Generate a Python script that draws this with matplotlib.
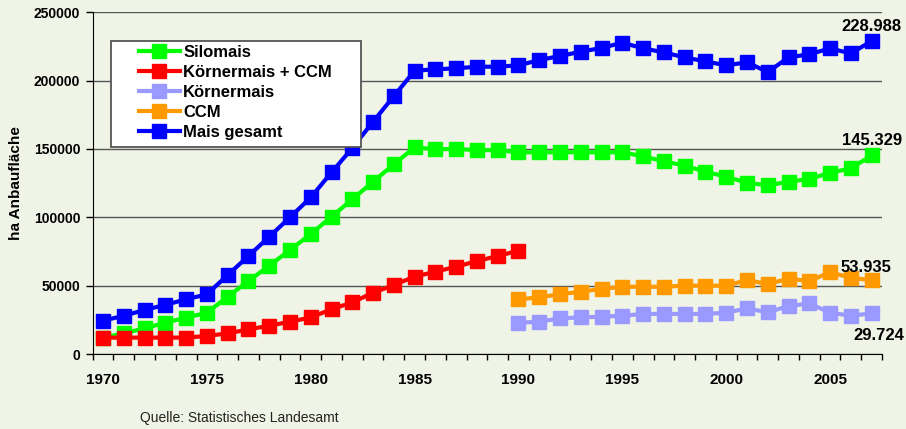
import numpy as np
import matplotlib.pyplot as plt
from matplotlib.patches import Rectangle
from matplotlib.ticker import MultipleLocator

plt.rcParams['font.family'] = ['Liberation Sans', 'DejaVu Sans']

# Anbauflaeche in ha
jahre = np.arange(1970, 2008)
jahre_ab_1990 = np.arange(1990, 2008)
jahre_bis_1990 = np.arange(1970, 1991)

silomais = [12000, 15100, 18800, 22900, 26600, 30200, 41900, 53400, 64600, 76100,
            87800, 100500, 113200, 126100, 138800, 151200, 149800, 150000, 149200, 149200,
            147600, 147600, 147600, 147600, 147600, 147600, 144600, 141000, 137800, 133400,
            129700, 125300, 123400, 126100, 128000, 132600, 135800, 145329]
koernermais_ccm = [12000, 12000, 12000, 12000, 12000, 13200, 15100, 18000, 20700, 23600,
                   26800, 32700, 37800, 44800, 50500, 56600, 60200, 63900, 68000, 71700,
                   75600]
koernermais = [22900, 23600, 26100, 26800, 27300, 28000, 29300, 29300, 29300, 29300,
               30200, 33400, 30500, 35100, 37000, 30200, 28000, 29724]
ccm = [40000, 41500, 43700, 45600, 47600, 49200, 49200, 49200, 50000, 50000,
       50000, 54100, 51200, 55100, 53400, 59800, 55800, 53935]
mais_gesamt = [24400, 28000, 32200, 36000, 40000, 43700, 57800, 71700, 85800, 100000,
               114600, 132900, 150700, 170000, 188700, 207300, 208300, 209000, 210200, 210200,
               211200, 215100, 218000, 221200, 223900, 227800, 223600, 220700, 217000, 214100,
               211200, 213400, 206300, 217000, 219300, 223600, 219900, 228988]

bg = '#F0F4E6'
fig = plt.figure(figsize=(9.06, 4.29), dpi=100, facecolor=bg)
ax = fig.add_axes([0.1023, 0.1748, 0.8712, 0.7965], facecolor=bg)

stil = dict(marker='s', markersize=9.5, linewidth=3, clip_on=False)
ax.plot(jahre, silomais, color='#00FF00', label='Silomais', **stil)
ax.plot(jahre_bis_1990, koernermais_ccm, color='#FF0000', label='Körnermais + CCM', **stil)
ax.plot(jahre_ab_1990, koernermais, color='#9999FF', label='Körnermais', **stil)
ax.plot(jahre_ab_1990, ccm, color='#FF9900', label='CCM', **stil)
ax.plot(jahre, mais_gesamt, color='#0000FF', label='Mais gesamt', **stil)

def de(v):
    return f'{v:,}'.replace(',', '.')

# Endwerte beschriften
ax.annotate(de(mais_gesamt[-1]), (jahre[-1], mais_gesamt[-1]), xytext=(0, 5),
            textcoords='offset points', ha='center', va='bottom', fontsize=12, fontweight='bold')
ax.annotate(de(silomais[-1]), (jahre[-1], silomais[-1]), xytext=(0, 5),
            textcoords='offset points', ha='center', va='bottom', fontsize=12, fontweight='bold')
ax.annotate(de(ccm[-1]), (jahre_ab_1990[-1], ccm[-1]), xytext=(-4, 9),
            textcoords='offset points', ha='center', va='center', fontsize=12, fontweight='bold')
ax.annotate(de(koernermais[-1]), (jahre_ab_1990[-1], koernermais[-1]), xytext=(5, -16),
            textcoords='offset points', ha='center', va='center', fontsize=12, fontweight='bold')

ax.set_xlim(1969.5, 2007.5)
ax.set_ylim(0, 250000)
ax.set_yticks(np.arange(0, 250001, 50000))
ax.set_xticks(np.arange(1970, 2008, 5))
ax.xaxis.set_minor_locator(MultipleLocator(1, offset=0.5))
ax.tick_params(axis='x', which='major', length=0, pad=14, labelsize=11)
ax.tick_params(axis='x', which='minor', length=4, width=1)
ax.tick_params(axis='y', length=5, width=1, pad=4, labelsize=10)
for lab in ax.get_xticklabels() + ax.get_yticklabels():
    lab.set_fontweight('bold')

ax.grid(axis='y', color='#555555', linewidth=1)
ax.set_axisbelow(True)
for s in ['top', 'right']:
    ax.spines[s].set_visible(False)
ax.spines['left'].set_color('black')
ax.spines['bottom'].set_color('black')

ax.set_ylabel('ha Anbaufläche', fontsize=11, fontweight='bold', labelpad=8)

# Legende mit eigenem Rahmen
fig.patches.append(Rectangle((111 / 906, 1 - 146.7 / 429), 250 / 906, 105.7 / 429,
                             transform=fig.transFigure, facecolor='white',
                             edgecolor='#555555', linewidth=1.3, zorder=3))
leg = fig.legend(loc='upper left', bbox_to_anchor=(139 / 906, 1 - 45 / 429),
                 frameon=False, borderpad=0, borderaxespad=0, handlelength=2.45,
                 handletextpad=0.2, labelspacing=0.3,
                 prop={'size': 12, 'weight': 'bold'})
leg.set_zorder(4)

fig.text(140 / 906, 1 - 417.7 / 429, 'Quelle: Statistisches Landesamt', fontsize=10,
         color='#222222', va='center', ha='left')

fig.savefig('out.png', dpi=100, facecolor=bg)
